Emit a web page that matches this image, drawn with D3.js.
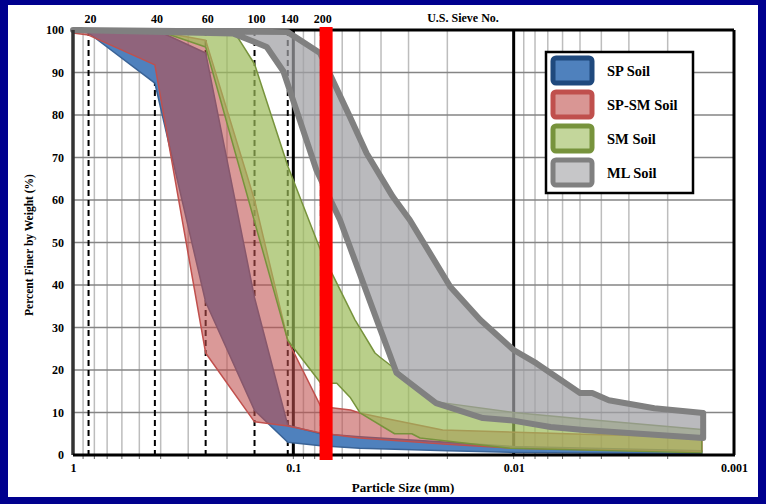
<!DOCTYPE html>
<html><head><meta charset="utf-8">
<script src="https://cdn.jsdelivr.net/npm/d3@7"></script>
<style>
html,body{margin:0;padding:0;background:#00008e;}
svg{display:block;}
text{font-family:"Liberation Serif","Times New Roman",serif;font-weight:bold;fill:#000;}
</style></head>
<body>
<svg id="chart" width="766" height="504"></svg>
<script>
// ---------- data ----------
const yTicks = [0,10,20,30,40,50,60,70,80,90,100];
const xTicks = [1,0.1,0.01,0.001];
const xTickLabels = ["1","0.1","0.01","0.001"];
const sieveNos = ["20","40","60","100","140","200"];
const sieveSizes = [0.85,0.425,0.25,0.15,0.106,0.075];
const no200Line = 0.071;

const spUpperSize = [1,0.42,0.25,0.15,0.106,0.075,0.05,0.02,0.01,0.0014];
const spUpperPct  = [100,100,94.6,37,7,5,4.3,3,2,1];
const spLowerSize = [1,0.85,0.425,0.25,0.15,0.106,0.075,0.05,0.02,0.01,0.0014];
const spLowerPct  = [100,99.3,87.5,36,10.5,3,2.2,1.6,1,0.6,0.3];

const spsmUpperSize = [1,0.45,0.25,0.15,0.106,0.075,0.055,0.05,0.039,0.021,0.0048,0.0014];
const spsmUpperPct  = [100,100,97.6,60,27,11.4,10.6,9.9,8.7,5.9,4.9,4.2];
const spsmLowerSize = [1,0.85,0.425,0.25,0.15,0.106,0.075,0.05,0.02,0.01,0.0014];
const spsmLowerPct  = [99.3,98.8,91.8,24,7.8,6.8,5.2,4,2.5,1.6,0.8];

const smUpperSize = [1,0.2,0.18,0.15,0.106,0.075,0.0525,0.0426,0.0404,0.034,0.0225,0.01,0.0042,0.0014];
const smUpperPct  = [100,100,98.5,92,68,48,31.8,24,23,20,12.5,10,8.2,6];
const smLowerSize = [1,0.42,0.25,0.106,0.075,0.0635,0.0553,0.0498,0.0347,0.029,0.0266,0.0104,0.0014];
const smLowerPct  = [100,100,96,27,16.9,16.9,13.6,9.9,5,5,4,1.6,0.5];

const mlUpperSize = [1,0.106,0.0757,0.0553,0.0465,0.0354,0.0296,0.0194,0.0142,0.01,0.0079,0.005,0.0044,0.0037,0.0023,0.00138];
const mlUpperPct  = [100,99.5,94.6,79.5,71,60.8,55.3,39.6,31.8,24.7,21.6,14.6,14.6,12.9,11,9.9];
const mlLowerSize = [1,0.188,0.157,0.132,0.111,0.0935,0.0785,0.0614,0.0418,0.034,0.0225,0.0138,0.0104,0.0068,0.0048,0.00138];
const mlLowerPct  = [100,99.2,97.6,96,90.3,78.8,67,55.3,31.8,19.3,12.2,8.7,8.2,6.6,5.9,4];

const legendNames = ["SP Soil","SP-SM Soil","SM Soil","ML Soil"];

// ---------- chart ----------
const svg = d3.select("#chart");
svg.append("rect").attr("x",8).attr("y",5).attr("width",750).attr("height",492).attr("fill","#fff");

const x = d3.scaleLog().domain([1,0.001]).range([73,734]);
const y = d3.scaleLinear().domain([0,100]).range([455,30]);

// minor vertical grid
const minor = [];
[1,0.1,0.01].forEach(dec=>{ for(let k=2;k<=9;k++) minor.push(dec*k/10); });
svg.append("g").selectAll("line").data(minor).join("line")
  .attr("x1",d=>x(d)).attr("x2",d=>x(d)).attr("y1",y(100)).attr("y2",y(0))
  .attr("stroke","#bdbdbd").attr("stroke-width",1.5);
// horizontal grid
svg.append("g").selectAll("line").data(yTicks.filter(d=>d>0&&d<100)).join("line")
  .attr("x1",x(1)).attr("x2",x(0.001)).attr("y1",d=>y(d)).attr("y2",d=>y(d))
  .attr("stroke","#858585").attr("stroke-width",1.5);
// major verticals
svg.append("g").selectAll("line").data([0.1,0.01]).join("line")
  .attr("x1",d=>x(d)).attr("x2",d=>x(d)).attr("y1",y(100)).attr("y2",y(0))
  .attr("stroke","#000").attr("stroke-width",3);
// bottom minor ticks
svg.append("g").selectAll("line").data(minor.concat([0.1,0.01])).join("line")
  .attr("x1",d=>x(d)).attr("x2",d=>x(d)).attr("y1",y(0)).attr("y2",y(0)+4)
  .attr("stroke","#666").attr("stroke-width",1);
// sieve dashed lines
svg.append("g").selectAll("line").data(sieveSizes).join("line")
  .attr("x1",d=>x(d)).attr("x2",d=>x(d)).attr("y1",y(100)).attr("y2",y(0))
  .attr("stroke","#000").attr("stroke-width",2).attr("stroke-dasharray","6,4");

// frame
svg.append("line").attr("x1",x(1)).attr("x2",x(0.001)).attr("y1",y(100)).attr("y2",y(100)).attr("stroke","#000").attr("stroke-width",3);
svg.append("line").attr("x1",x(0.001)).attr("x2",x(0.001)).attr("y1",y(100)).attr("y2",y(0)).attr("stroke","#000").attr("stroke-width",3);

// bands
const line = d3.line().x(d=>x(d[0])).y(d=>y(d[1]));
function band(uS,uP,lS,lP){
  const up = uS.map((s,i)=>[s,uP[i]]);
  const lo = lS.map((s,i)=>[s,lP[i]]).reverse();
  return line(up.concat(lo))+"Z";
}
const bands = [
  {d:band(spUpperSize,spUpperPct,spLowerSize,spLowerPct), fill:"#4f81bd", fo:1, stroke:"#3a6396", sw:1.5},
  {d:band(spsmUpperSize,spsmUpperPct,spsmLowerSize,spsmLowerPct), fill:"#c0504d", fo:0.58, stroke:"#c0504d", sw:1.5},
  {d:band(smUpperSize,smUpperPct,smLowerSize,smLowerPct), fill:"#9bbb59", fo:0.7, stroke:"#77933c", sw:1.5},
  {d:band(mlUpperSize,mlUpperPct,mlLowerSize,mlLowerPct), fill:"#a0a0a4", fo:0.72, stroke:"#808080", sw:6}
];
svg.append("g").selectAll("path").data(bands).join("path")
  .attr("d",d=>d.d).attr("fill",d=>d.fill).attr("fill-opacity",d=>d.fo)
  .attr("stroke",d=>d.stroke).attr("stroke-width",d=>d.sw).attr("stroke-linejoin","round").attr("stroke-linecap","round");

// axes lines
svg.append("line").attr("x1",x(1)).attr("x2",x(1)).attr("y1",y(100)).attr("y2",y(0)).attr("stroke","#333").attr("stroke-width",3.5);
svg.append("line").attr("x1",x(1)).attr("x2",x(0.001)+1).attr("y1",y(0)).attr("y2",y(0)).attr("stroke","#000").attr("stroke-width",3);

// No. 200 red line
svg.append("rect").attr("x",x(no200Line)-6.5).attr("y",y(100)-3).attr("width",13).attr("height",y(0)-y(100)+8).attr("fill","#ff0000");

// y axis labels
const ya = svg.append("g").attr("transform",`translate(${x(1)},0)`)
  .call(d3.axisLeft(y).tickValues(yTicks).tickSize(0).tickPadding(9).tickFormat(d3.format("d")));
ya.select(".domain").remove();
ya.selectAll("text").attr("font-size",12).attr("font-family","Liberation Serif").attr("font-weight","bold");

// x axis labels
const xa = svg.append("g").attr("transform",`translate(0,${y(0)})`)
  .call(d3.axisBottom(x).tickValues(xTicks).tickSize(0).tickPadding(8).tickFormat((d,i)=>xTickLabels[i]));
xa.select(".domain").remove();
xa.selectAll("text").attr("font-size",12).attr("font-family","Liberation Serif").attr("font-weight","bold");

// sieve labels
svg.append("g").selectAll("text").data(sieveNos).join("text")
  .attr("x",(d,i)=>x(sieveSizes[i])+2).attr("y",23).attr("text-anchor","middle").attr("font-size",12).text(d=>d);
svg.append("text").attr("x",463).attr("y",22).attr("text-anchor","middle").attr("font-size",12).text("U.S. Sieve No.");

// axis titles
svg.append("text").attr("x",403).attr("y",492).attr("text-anchor","middle").attr("font-size",13).text("Particle Size (mm)");
svg.append("text").attr("transform","translate(33,245) rotate(-90)").attr("text-anchor","middle").attr("font-size",11.5).text("Percent Finer by Weight (%)");

// legend
const lg = svg.append("g");
lg.append("rect").attr("x",546).attr("y",52).attr("width",147).attr("height",141).attr("fill","#fff").attr("stroke","#000").attr("stroke-width",2.5);
const leg = lg.selectAll("g").data(legendNames).join("g").attr("transform",(d,i)=>`translate(0,${70+i*34})`);
leg.append("rect").attr("x",553).attr("y",-12).attr("width",39).attr("height",25).attr("rx",3)
  .attr("fill",(d,i)=>bands[i].fill).attr("fill-opacity",(d,i)=>i===0?1:0.6)
  .attr("stroke",(d,i)=>["#1f497d","#c0504d","#77933c","#808080"][i]).attr("stroke-width",5);
leg.append("text").attr("x",607).attr("y",6).attr("font-size",14.5).text(d=>d);
</script>
</body></html>
